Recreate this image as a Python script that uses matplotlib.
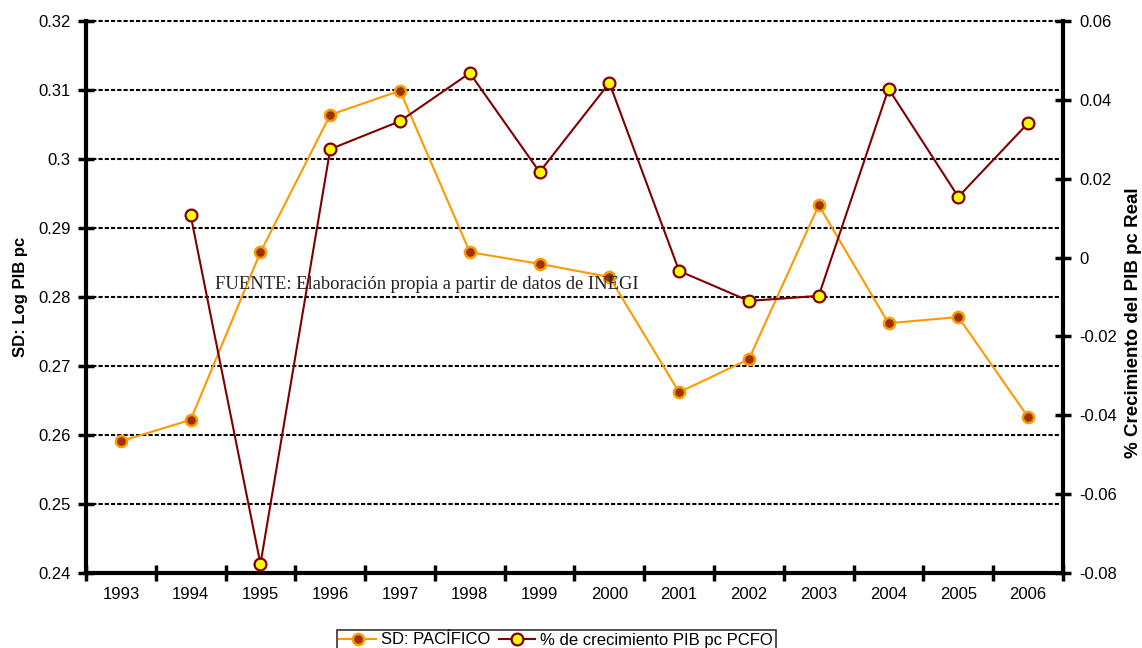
import matplotlib
matplotlib.use('Agg')
import matplotlib.pyplot as plt
from matplotlib.ticker import FuncFormatter, MultipleLocator
from matplotlib.lines import Line2D

# Datos
anios = ['1993', '1994', '1995', '1996', '1997', '1998', '1999',
         '2000', '2001', '2002', '2003', '2004', '2005', '2006']
sd_pacifico = [0.2591, 0.2622, 0.2865, 0.3064, 0.3099, 0.2865, 0.2848,
               0.2829, 0.2662, 0.2710, 0.2933, 0.2762, 0.2771, 0.2626]
anios_crec = anios[1:]
crec_pib = [0.0107, -0.0777, 0.0275, 0.0346, 0.0468, 0.0217, 0.0443,
            -0.0034, -0.0110, -0.0097, 0.0428, 0.0154, 0.0341]

plt.rcParams['font.family'] = ['Liberation Sans', 'DejaVu Sans']

fig = plt.figure(figsize=(11.42, 6.48), dpi=100)
ax = fig.add_axes([0.0753, 0.1157, 0.8555, 0.8519])
ax2 = ax.twinx()

x1 = list(range(1, len(anios) + 1))
x2 = list(range(2, len(anios) + 1))

# Serie SD (eje izquierdo)
estilo_sd = dict(color='#FF9900', linewidth=1.5, marker='o', markersize=8,
                 markerfacecolor='#993300', markeredgecolor='#FF9900',
                 markeredgewidth=1.8)
estilo_crec = dict(color='#800000', linewidth=1.5, marker='o', markersize=8.5,
                   markerfacecolor='#FFFF00', markeredgecolor='#800000',
                   markeredgewidth=1.6)

ax.plot(x1, sd_pacifico, zorder=3, **estilo_sd)
ax.set_ylim(0.24, 0.32)
ax.set_xlim(0.5, 14.5)
ax.yaxis.set_major_locator(MultipleLocator(0.01))
ax.yaxis.set_major_formatter(FuncFormatter(lambda v, p: '%g' % round(v, 3)))
ax.grid(axis='y', color='black', linestyle=(0, (2, 1)), linewidth=1.5)
ax.set_axisbelow(True)

ax.set_xticks(x1)
ax.set_xticklabels(anios)
ax.set_xticks([i + 0.5 for i in range(0, 15)], minor=True)
ax.tick_params(axis='x', which='major', length=0, pad=10, labelsize=12)
ax.tick_params(axis='x', which='minor', direction='inout', length=12, width=2.5)
ax.tick_params(axis='y', direction='inout', length=12, width=2.5, pad=5, labelsize=12)

for s in ['top', 'right']:
    ax.spines[s].set_visible(False)
ax.spines['left'].set_linewidth(3)
ax.spines['bottom'].set_linewidth(3)

# Serie de crecimiento (eje derecho)
ax2.plot(x2, crec_pib, zorder=3, **estilo_crec)
ax2.set_ylim(-0.08, 0.06)
ax2.yaxis.set_major_locator(MultipleLocator(0.02))
ax2.yaxis.set_major_formatter(FuncFormatter(lambda v, p: '%g' % round(v, 3)))
ax2.tick_params(axis='y', direction='inout', length=12, width=2.5, pad=6, labelsize=12)
for s in ['top', 'left', 'bottom']:
    ax2.spines[s].set_visible(False)
ax2.spines['right'].set_linewidth(3)

# que la línea de 0.32 no quede recortada
fig.canvas.draw()
for g in ax.get_ygridlines():
    g.set_clip_on(False)

# Títulos de los ejes
fig.text(21 / 1142, 1 - 297 / 648, 'SD: Log PIB pc', rotation=90,
         ha='center', va='center', fontsize=12, fontweight='bold')
fig.text(1134 / 1142, 1 - 323 / 648, '% Crecimiento del PIB pc Real', rotation=90,
         ha='center', va='center', fontsize=13.5, fontweight='bold')

ax2.text(0.132, 0.522, 'FUENTE: Elaboración propia a partir de datos de INEGI',
         transform=ax2.transAxes, ha='left', va='center', fontsize=13.3,
         family=['Liberation Serif', 'DejaVu Serif'], color='#222222', zorder=5)

# Leyenda
handles = [Line2D([], [], **estilo_sd), Line2D([], [], **estilo_crec)]
leg = fig.legend(handles, ['SD: PACÍFICO', '% de crecimiento PIB pc PCFO'],
                 loc='upper center', bbox_to_anchor=(0.487, 1 - 630 / 648),
                 ncol=2, fontsize=12, frameon=True, fancybox=False,
                 edgecolor='black', handlelength=2.2, handletextpad=0.3,
                 columnspacing=0.5, borderpad=0.15, borderaxespad=0)
leg.get_frame().set_linewidth(1.2)

plt.savefig('out.png', dpi=100)
